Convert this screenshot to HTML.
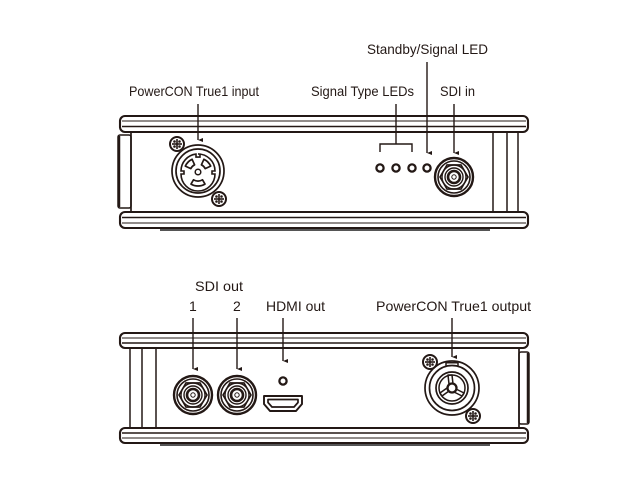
<!DOCTYPE html>
<html><head><meta charset="utf-8"><style>
html,body{margin:0;padding:0;background:#fff;}
svg{display:block;}
text{font-family:"Liberation Sans",sans-serif;font-size:14px;fill:#231815;}
</style></head><body>
<svg width="640" height="480" viewBox="0 0 640 480" xmlns="http://www.w3.org/2000/svg">
<defs>
<g id="screw">
<circle r="7" fill="#fff" stroke="#231815" stroke-width="2"/>
<line x1="-5" y1="0" x2="5" y2="0" stroke="#231815" stroke-width="1.6"/>
<line x1="0" y1="-5" x2="0" y2="5" stroke="#231815" stroke-width="1.6"/>
<circle cx="-2.5" cy="-2.5" r="1.3" fill="#231815"/>
<circle cx="2.5" cy="-2.5" r="1.3" fill="#231815"/>
<circle cx="-2.5" cy="2.5" r="1.3" fill="#231815"/>
<circle cx="2.5" cy="2.5" r="1.3" fill="#231815"/>
</g>
<g id="bnc" fill="none" stroke="#231815">
<circle r="19" stroke-width="2.4"/>
<circle r="16" stroke-width="1.6"/>
<polygon points="14,0 7,12.1 -7,12.1 -14,0 -7,-12.1 7,-12.1" stroke-width="1.6"/>
<circle r="12" stroke-width="1.4"/>
<circle r="9" stroke-width="1.4"/>
<circle r="6" stroke-width="2.6"/>
<circle r="2.2" stroke-width="1"/>
</g>
<marker id="ah" markerWidth="4" markerHeight="5" refX="2" refY="5" orient="auto" markerUnits="userSpaceOnUse" viewBox="0 0 4 5"><path d="M0,0 L4,0 L2,5 Z" fill="#231815"/></marker>
</defs>

<g fill="none" stroke="#231815">
<!-- ===== TOP BOX ===== -->
<rect x="118" y="135" width="13" height="73" rx="2" stroke-width="1.5"/>
<line x1="119" y1="136" x2="119" y2="207" stroke-width="2.5"/>
<line x1="131" y1="131" x2="131" y2="212" stroke-width="1.7"/>
<line x1="493" y1="131" x2="493" y2="212" stroke-width="1.5"/>
<line x1="507" y1="131" x2="507" y2="212" stroke-width="1.5"/>
<line x1="518" y1="131" x2="518" y2="212" stroke-width="1.5"/>
<rect x="120" y="116" width="408" height="16" rx="5" fill="#fff" stroke-width="2.1"/>
<line x1="122" y1="121" x2="526" y2="121" stroke-width="1.1"/>
<line x1="122" y1="126.5" x2="526" y2="126.5" stroke-width="1.4"/>
<rect x="120" y="212" width="408" height="16" rx="5" fill="#fff" stroke-width="2.1"/>
<line x1="122" y1="217.5" x2="526" y2="217.5" stroke-width="1.4"/>
<line x1="122" y1="223" x2="526" y2="223" stroke-width="1.1"/>
<line x1="160" y1="230" x2="490" y2="230" stroke="#555" stroke-width="2"/>

<!-- top powerCON -->
<circle cx="198" cy="171" r="26" stroke-width="1.7"/>
<circle cx="198" cy="171" r="22" stroke-width="1.7"/>
<path d="M198,154 a17,17 0 0 1 17,17 h-3 v3 h3 a17,17 0 0 1 -34,0 h3 v-3 h-3 a17,17 0 0 1 15,-16.9 v3 h4 v-3 z" stroke-width="1.6"/>
<g stroke-width="1.7" stroke-linejoin="round">
<path d="M185.3,166.1 A14,14 0 0 1 192.1,159.3 L194.6,164.8 A8,8 0 0 0 190.8,168.6 Z"/>
<path d="M210.7,166.1 A14,14 0 0 0 203.9,159.3 L201.4,164.8 A8,8 0 0 1 205.2,168.6 Z"/>
<path d="M205,184.1 A14,14 0 0 1 191,184.1 L193.5,179.8 A9,9 0 0 0 202.5,179.8 Z"/>
</g>
<circle cx="198" cy="172" r="2.8" stroke-width="1.5"/>
</g>
<use href="#screw" x="177" y="144"/>
<use href="#screw" x="219" y="199"/>

<g fill="none" stroke="#231815" stroke-width="2.3">
<circle cx="380" cy="168" r="3.6"/>
<circle cx="396" cy="168" r="3.6"/>
<circle cx="412" cy="168" r="3.6"/>
<circle cx="427" cy="168" r="3.6"/>
</g>
<use href="#bnc" x="454" y="177"/>

<g stroke="#231815" stroke-width="1.4" fill="none">
<line x1="198" y1="104" x2="198" y2="140" marker-end="url(#ah)"/>
<line x1="396" y1="104" x2="396" y2="144"/>
<polyline points="380,152 380,144 412,144 412,152"/>
<line x1="427" y1="62" x2="427" y2="153" marker-end="url(#ah)"/>
<line x1="454" y1="104" x2="454" y2="153" marker-end="url(#ah)"/>
</g>

<text x="129" y="96" textLength="130" lengthAdjust="spacingAndGlyphs">PowerCON True1 input</text>
<text x="311" y="96" textLength="103" lengthAdjust="spacingAndGlyphs">Signal Type LEDs</text>
<text x="440" y="96" textLength="35" lengthAdjust="spacingAndGlyphs">SDI in</text>
<text x="367" y="54" textLength="121" lengthAdjust="spacingAndGlyphs">Standby/Signal LED</text>

<!-- ===== BOTTOM BOX ===== -->
<g fill="none" stroke="#231815">
<rect x="519" y="352" width="10" height="72" rx="2" stroke-width="1.5"/>
<line x1="528" y1="353" x2="528" y2="423" stroke-width="2.5"/>
<line x1="519" y1="347" x2="519" y2="428" stroke-width="1.7"/>
<line x1="130" y1="347" x2="130" y2="428" stroke-width="1.5"/>
<line x1="142" y1="347" x2="142" y2="428" stroke-width="1.5"/>
<line x1="156" y1="347" x2="156" y2="428" stroke-width="1.5"/>
<rect x="120" y="333" width="408" height="15" rx="5" fill="#fff" stroke-width="2.1"/>
<line x1="122" y1="338" x2="526" y2="338" stroke-width="1.1"/>
<line x1="122" y1="343" x2="526" y2="343" stroke-width="1.4"/>
<rect x="120" y="428" width="408" height="15" rx="5" fill="#fff" stroke-width="2.1"/>
<line x1="122" y1="433" x2="526" y2="433" stroke-width="1.4"/>
<line x1="122" y1="438" x2="526" y2="438" stroke-width="1.1"/>
<line x1="160" y1="445" x2="490" y2="445" stroke="#555" stroke-width="2"/>

<circle cx="283" cy="381" r="3.6" stroke-width="2.3"/>
<path d="M264,396 h38 v8 l-6,7 h-26 l-6,-7 z" stroke-width="1.9" stroke-linejoin="round"/>
<path d="M268,399.5 h30 v3 l-4,4.5 h-22 l-4,-4.5 z" stroke-width="1.7" stroke-linejoin="round"/>

<circle cx="452" cy="388" r="27" stroke-width="1.7"/>
<path d="M446,365.7 v-3 h12 v3" stroke-width="1.5"/>
<circle cx="452" cy="388" r="22.5" stroke-width="1.7"/>
<circle cx="452" cy="388" r="16" stroke-width="1.7"/>
<circle cx="452" cy="388" r="13" stroke-width="1.5"/>
<circle cx="452" cy="388" r="4.5" stroke-width="2.3"/>
<g stroke-width="1.5" stroke-linejoin="round">
<path d="M449,384 l-1,-9 l4,0 l1,9"/>
<path d="M456,389 l8,4 l-2,3 l-8,-4"/>
<path d="M449,391 l-7,5 l-2,-3 l7,-5"/>
</g>
</g>
<use href="#screw" x="430" y="362"/>
<use href="#screw" x="473" y="416"/>
<use href="#bnc" x="193" y="395"/>
<use href="#bnc" x="237" y="395"/>

<g stroke="#231815" stroke-width="1.4" fill="none">
<line x1="193" y1="318" x2="193" y2="369" marker-end="url(#ah)"/>
<line x1="237" y1="318" x2="237" y2="369" marker-end="url(#ah)"/>
<line x1="283" y1="318" x2="283" y2="361" marker-end="url(#ah)"/>
<line x1="452" y1="318" x2="452" y2="357" marker-end="url(#ah)"/>
</g>

<text x="195" y="291" textLength="48" lengthAdjust="spacingAndGlyphs">SDI out</text>
<text x="189" y="311">1</text>
<text x="233" y="311">2</text>
<text x="266" y="311" textLength="59" lengthAdjust="spacingAndGlyphs">HDMI out</text>
<text x="376" y="311" textLength="155" lengthAdjust="spacingAndGlyphs">PowerCON True1 output</text>
</svg>
</body></html>
